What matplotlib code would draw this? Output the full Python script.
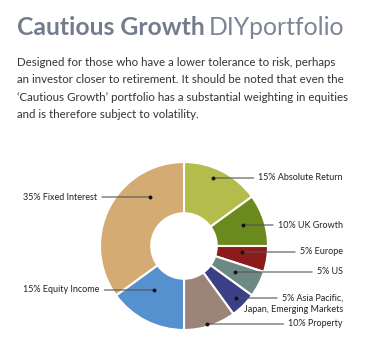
import matplotlib
matplotlib.use("Agg")
import matplotlib.pyplot as plt
import numpy as np

labels = ["15% Absolute Return", "10% UK Growth", "5% Europe", "5% US",
          "5% Asia Pacific,\nJapan, Emerging Markets", "10% Property",
          "15% Equity Income", "35% Fixed Interest"]
values = [15, 10, 5, 5, 5, 10, 15, 35]
colors = ["#b4bd4b", "#6a8a1e", "#8c1c1c", "#6c8a83", "#3b3f86", "#9c8479",
          "#5590cf", "#d4ab73"]

title_bold = "Cautious Growth"
title_light = "DIYportfolio"
description = ["Designed for those who have a lower tolerance to risk, perhaps",
               "an investor closer to retirement. It should be noted that even the",
               "\u2018Cautious Growth\u2019 portfolio has a substantial weighting in equities",
               "and is therefore subject to volatility."]

W, H = 369, 351
CX, CY, R = 184, 246, 84
fig = plt.figure(figsize=(W / 100, H / 100), dpi=100)
fig.patch.set_facecolor("white")
ax = fig.add_axes([0, 0, 1, 1])
ax.axis("off")

def d(px, py):
    return ((px - CX) / R, (CY - py) / R)

wedges, _ = ax.pie(values, colors=colors, startangle=90, counterclock=False,
                   radius=1, center=(0, 0),
                   wedgeprops=dict(width=0.61, edgecolor="white", linewidth=1.5))
ax.set_xlim(-CX / R, (W - CX) / R)
ax.set_ylim(-(H - CY) / R, CY / R)
ax.set_aspect("equal")

# layout: label y (px), dot x (px), side
label_y = [178, 225, 252, 272, 298, 324, 290, 197]
dot_x = [213, 243, 242, 235, 236, 207, 154, 150]
side = ["r", "r", "r", "r", "r", "r", "l", "l"]
RIGHT_X, LEFT_X = 343, 23

font = "Lato"
lc = "#555555"
fs = 6.5
tc = "#222222"
for lab, ly, dx, sd in zip(labels, label_y, dot_x, side):
    first = lab.split("\n")[0]
    dot = d(dx, ly)
    if sd == "r":
        tx = d(RIGHT_X, ly)
        ax.annotate(first, xy=dot, xytext=tx, ha="right", va="center",
                    fontsize=fs, family=font, color=tc,
                    arrowprops=dict(arrowstyle="-", color=lc, lw=0.8,
                                    shrinkA=1.5, shrinkB=0, relpos=(0, 0.5)))
        if "\n" in lab:
            ax.text(*d(RIGHT_X, ly + 11.5), lab.split("\n")[1], ha="right",
                    va="center", fontsize=fs, family=font, color=tc)
    else:
        tx = d(LEFT_X, ly)
        ax.annotate(first, xy=dot, xytext=tx, ha="left", va="center",
                    fontsize=fs, family=font, color=tc,
                    arrowprops=dict(arrowstyle="-", color=lc, lw=0.8,
                                    shrinkA=1.5, shrinkB=0, relpos=(1, 0.5)))
    ax.plot(*dot, "o", color="#111111", markersize=1.8, zorder=5)

# title
t1 = fig.text(17 / W, 1 - 35 / H, title_bold, fontsize=17.8, family=font,
              fontweight="bold", color="#747c8c", va="baseline", ha="left")
fig.canvas.draw()
bb = t1.get_window_extent()
fig.text((bb.x1 + 4) / W, 1 - 35 / H, title_light, fontsize=17.8, family=font,
         fontweight="normal", color="#7d8494", va="baseline", ha="left")

for i, line in enumerate(description):
    fig.text(17 / W, 1 - (62 + i * 17.6) / H, line, fontsize=8.3, family=font,
             color="#333333", va="center", ha="left")

fig.savefig("out.png", dpi=100, facecolor="white")
